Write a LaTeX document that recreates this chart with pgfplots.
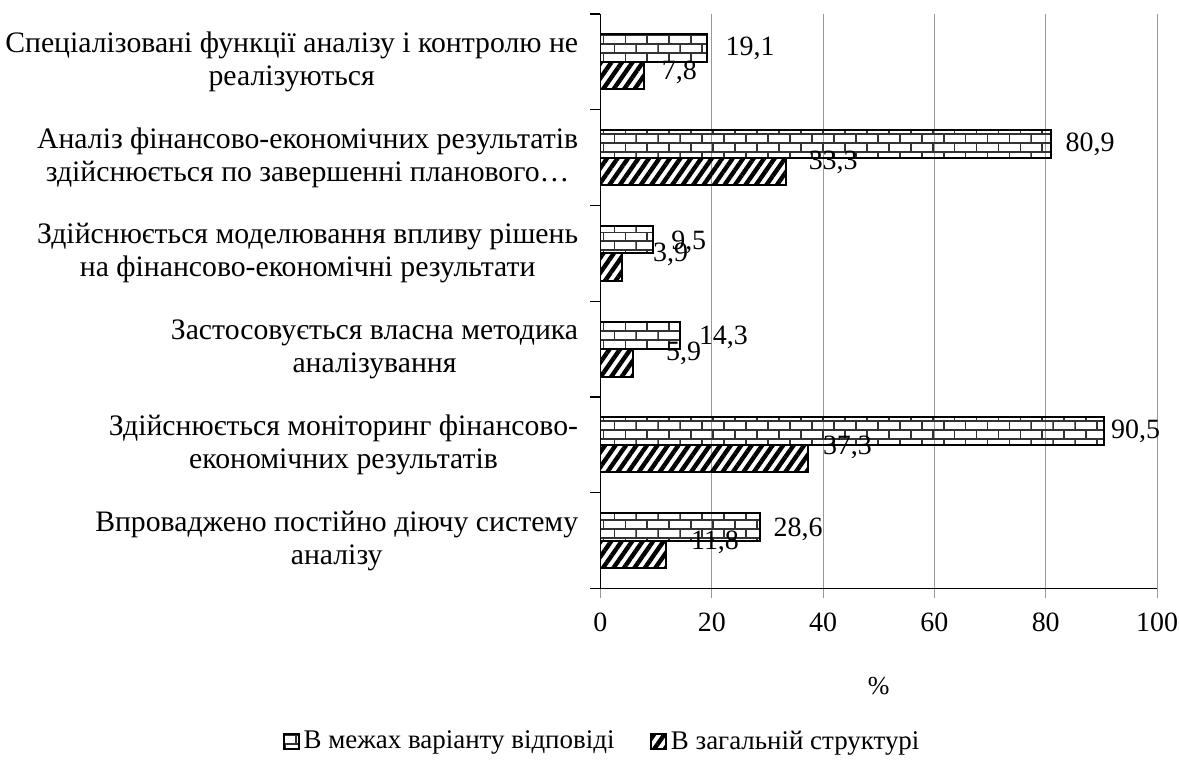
\documentclass[border=0pt]{standalone}
\usepackage{fontspec}
\setmainfont{Liberation Serif}
\usepackage{pgfplots}
\usepackage{pgfplotstable}
\pgfplotsset{compat=1.18}
\usetikzlibrary{patterns,patterns.meta}

\pgfdeclarepatternformonly{mybricks}{\pgfpoint{-0.5pt}{-0.5pt}}{\pgfpoint{11.5pt}{9.5pt}}{\pgfpoint{11pt}{9pt}}{
  \pgfsetlinewidth{0.9pt}
  \pgfpathmoveto{\pgfpoint{0pt}{0pt}}\pgfpathlineto{\pgfpoint{11pt}{0pt}}
  \pgfpathmoveto{\pgfpoint{0pt}{4.5pt}}\pgfpathlineto{\pgfpoint{11pt}{4.5pt}}
  \pgfpathmoveto{\pgfpoint{0pt}{0pt}}\pgfpathlineto{\pgfpoint{0pt}{4.5pt}}
  \pgfpathmoveto{\pgfpoint{5.5pt}{4.5pt}}\pgfpathlineto{\pgfpoint{5.5pt}{9pt}}
  \pgfusepath{stroke}
}

\pgfplotstableread{
y  x     dx   dy
1  19.1  9    0
2  80.9  7    0
3  9.5   8.5  -1.5
4  14.3  9    -1
5  90.5  3    0
6  28.6  6.5  -1
}\brick

\pgfplotstableread{
y  x     dx   dy
1  7.8   8.5  1.5
2  33.3  11   4.5
3  3.9   15   6.5
4  5.9   16   4.5
5  37.3  7    5.5
6  11.8  12   6
}\hatch

\begin{document}
\begin{tikzpicture}
\useasboundingbox (-301pt,-91.5pt) rectangle (290pt,295pt);
\begin{axis}[
  at={(0,0)}, anchor=south west,
  scale only axis, width=279pt, height=288pt,
  xbar, bar width=13.75pt,
  xmin=0, xmax=100, ymin=0.5, ymax=6.5, y dir=reverse,
  axis x line*=bottom, axis y line*=left,
  axis line style={-, black, line width=0.6pt},
  xtick={0,20,...,100},
  xmajorgrids, grid style={gray!80, line width=0.5pt},
  tick align=outside, major tick length=5pt,
  xtick style={gray!80, line width=0.5pt},
  ytick={0.5,1.5,...,6.5}, yticklabels={},
  ytick style={black, line width=0.6pt},
  extra y ticks={1,2,3,4,5,6},
  extra y tick labels={
    {Спеціалізовані функції аналізу і контролю не\\реалізуються},
    {Аналіз фінансово-економічних результатів\\здійснюється по завершенні планового…},
    {Здійснюється моделювання впливу рішень\\на фінансово-економічні результати},
    {Застосовується власна методика\\аналізування},
    {Здійснюється моніторинг фінансово-\\економічних результатів},
    {Впроваджено постійно діючу систему\\аналізу}},
  extra y tick style={major tick length=0pt, ymajorgrids=false,
    yticklabel style={align=center, anchor=east, inner sep=0pt, xshift=-11pt,
      font=\fontsize{14.9}{16.5}\selectfont}},
  xticklabel style={font=\fontsize{14}{17}\selectfont, inner sep=0pt, anchor=north, yshift=-7pt},
  /pgf/number format/assume math mode=true,
  xlabel={\%},
  xlabel style={at={(0.5,-0.17)}, anchor=center, font=\fontsize{13}{15}\selectfont},
  nodes near coords,
  point meta=x,
  nodes near coords style={font=\fontsize{14}{16}\selectfont, anchor=west, inner sep=0pt,
    xshift=\myDX pt, yshift=\myDY pt,
    /pgf/number format/.cd, use comma, fixed, fixed zerofill, precision=1},
  visualization depends on={\thisrow{dx} \as \myDX},
  visualization depends on={\thisrow{dy} \as \myDY},
  legend style={at={(0.005,-0.266)}, anchor=center, legend columns=2, draw=none,
    font=\fontsize{13.5}{15}\selectfont,
    /tikz/every even column/.append style={column sep=16pt}},
  legend image code/.code={\draw[#1, line width=0.8pt] (0pt,-3.75pt) rectangle (7.5pt,3.75pt);},
]
\addplot[draw=black, line width=1pt, pattern=mybricks, pattern color=black!80, bar shift=6.875pt]
  table[x=x, y=y] {\brick};
\addplot[draw=black, line width=1pt, pattern={Lines[angle=55, distance=4.3pt, line width=2.2pt]}, pattern color=black, bar shift=-6.875pt]
  table[x=x, y=y] {\hatch};
\legend{В межах варіанту відповіді, В загальній структурі}
\end{axis}
\end{tikzpicture}
\end{document}
